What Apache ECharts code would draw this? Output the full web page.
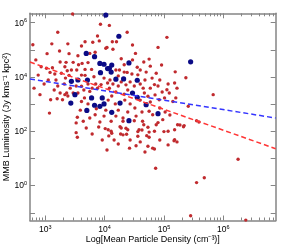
<!DOCTYPE html>
<html>
<head>
<meta charset="utf-8">
<script src="https://cdn.jsdelivr.net/npm/echarts@6/dist/echarts.min.js"></script>
<style>html,body{margin:0;padding:0;background:#fff;}#c{width:293px;height:245px;}</style>
</head>
<body>
<div id="c"></div>
<script>
// log10(mean particle density), log10(MMB luminosity)
const redSources = [
[3.46,6.32],[3.93,5.94],[3.21,5.65],[2.79,5.19],[3.11,5.22],[3.38,5.22],[3.88,5.51],[3.91,5.33],[3.80,5.28],[3.67,5.30],
[3.61,5.14],[3.24,4.96],[3.03,4.86],[3.40,4.86],[3.55,4.78],[3.84,4.91],[3.75,4.87],[4.02,5.06],[3.35,4.54],[3.47,4.54],
[3.56,4.45],[3.62,4.50],[3.72,4.53],[2.93,4.38],[3.02,4.32],[3.12,4.34],[3.33,4.38],[3.37,4.23],[3.44,4.26],[3.53,4.26],
[3.67,4.28],[3.78,4.28],[3.08,4.17],[3.16,4.11],[3.27,4.14],[3.40,4.06],[3.61,4.07],[3.67,4.06],[3.82,4.01],[3.05,3.89],
[3.34,3.96],[4.08,5.90],[4.38,5.65],[5.05,5.46],[4.13,5.30],[4.20,5.30],[4.04,5.09],[4.47,5.18],[4.14,5.02],[4.90,5.09],
[4.52,4.87],[4.75,4.66],[4.28,4.67],[4.47,4.63],[4.33,4.45],[4.96,4.44],[4.55,4.36],[4.25,4.26],[4.19,4.26],[4.38,4.17],
[5.19,4.19],[4.87,4.14],[4.56,4.08],[5.37,3.97],[2.91,3.35],[3.07,2.67],[3.09,3.16],[3.20,3.20],[3.29,3.16],[3.25,3.41],
[3.36,3.41],[3.38,3.30],[3.47,3.41],[3.55,3.41],[3.61,3.66],[3.88,3.59],[3.94,3.72],[3.54,2.52],[3.64,2.37],[3.52,2.31],
[3.84,2.61],[3.92,2.34],[3.90,2.16],[4.01,2.10],[4.06,2.06],[3.54,1.78],[3.86,2.83],[3.66,3.23],[3.75,3.47],[3.61,3.10],
[3.33,3.35],[4.84,3.72],[5.18,3.78],[5.05,3.53],[5.09,3.41],[5.22,3.59],[4.05,3.78],[4.08,3.59],[4.67,3.41],[4.73,3.29],
[4.92,3.16],[5.01,3.23],[5.15,3.10],[5.20,3.23],[4.31,2.49],[4.31,2.37],[4.11,2.37],[4.50,2.39],[4.64,2.37],[4.75,2.74],
[4.81,2.61],[4.28,2.12],[4.39,2.06],[4.58,2.06],[4.73,2.15],[4.87,2.24],[4.98,2.43],[5.07,2.00],[5.18,2.06],[5.23,2.24],
[4.11,2.00],[4.75,1.97],[4.75,1.78],[4.84,2.00],[4.31,1.87],[4.56,1.82],[5.18,1.69],[5.22,1.61],[4.42,1.38],[4.73,1.45],
[4.81,1.38],[5.83,3.35],[5.41,2.92],[5.55,2.39],[5.59,2.34],[5.34,2.21],[6.25,0.97],[5.55,0.11],[5.68,0.29],[5.45,-1.11],
[6.38,-1.27],[4.86,0.64],[5.17,1.65],[4.68,1.24],[4.71,1.84],[4.84,1.35],[4.90,2.32],[5.00,1.99],[5.27,2.23],[5.33,2.17],
[4.63,2.05],[3.52,1.95],[4.04,1.31],[4.07,1.83],[4.12,1.93],[4.26,2.17],[4.27,1.90],[4.37,1.89],[4.36,2.11],[4.53,1.47],
[4.56,1.99],[4.66,2.24],
[4.09,3.89],[4.14,3.74],[4.23,3.67],[4.28,3.82],[4.36,3.71],[4.43,3.82],[4.50,3.67],[4.60,3.74],[4.65,3.59],[4.39,3.52],
[4.33,3.37],[4.19,3.45],[4.12,3.30],[4.06,3.15],[4.18,3.01],[4.34,3.15],[4.43,3.01],[4.51,2.86],[4.60,3.15],[4.63,2.71],
[4.39,2.71],[4.23,2.78],[4.02,2.78],[3.99,2.56],[4.19,2.56],[4.53,2.56],[4.93,2.86],[5.02,2.71],[5.10,2.60],[4.85,3.34],
[4.77,3.08],[4.97,3.45],[4.90,3.67],[4.77,3.59],[4.68,3.89],[4.80,3.96],[4.93,3.89],[5.07,3.74],[4.46,4.11],[4.60,4.26],
[4.70,4.18],[4.77,4.40],[4.66,4.55],[4.33,4.18],[4.23,4.04],[3.99,3.96],[3.85,3.74],[3.79,3.59],[3.72,3.74],[3.65,3.52],
[3.52,3.67],[3.42,3.59],[3.32,3.74],[3.21,3.67],[3.15,3.52],[3.72,3.01],[3.75,2.49],[3.69,2.12],[3.79,1.90],[3.59,2.78],
[4.16,1.68],[4.23,1.53],[3.96,1.68],[4.43,1.68],[4.93,1.68],[5.07,1.50],[4.60,1.61],[2.84,4.63],[2.88,4.07],[2.98,3.74],
[2.81,3.59],[3.18,3.89],[3.25,4.55]
];
const blueSources = [
[4.02,6.28],[4.24,5.50],[3.69,4.87],[3.83,4.75],[3.92,4.50],[3.99,4.47],[5.45,4.56],[4.12,4.44],[4.08,4.32],[4.41,4.52],
[3.44,3.84],[3.55,3.89],[3.71,3.89],[3.93,4.16],[4.05,4.31],[4.11,4.18],[4.19,3.92],[4.32,3.93],[4.55,3.88],[3.50,3.35],
[3.43,3.04],[3.78,3.23],[3.70,2.77],[3.83,2.96],[3.92,2.92],[3.96,3.23],[3.99,3.01],[4.47,3.41],[4.55,3.25],[4.26,3.04],
[4.70,2.98],[4.90,2.65],[4.12,2.70],[4.41,2.39]
];
// fitted trend lines (endpoints at the plot edges)
const redFit = [[2.742,4.55],[6.884,1.36]];
const blueFit = [[2.742,3.93],[6.884,2.49]];
// tick labels (decade exponents)
const xTickLabels = [3,4,5,6];
const yTickLabels = [0,2,4,6];
const yTickMarks = [-1,0,1,2,3,4,5,6];

const xMin = 2.742, xMax = 6.884, yMin = -1.285, yMax = 6.346;
const FONT = 'Liberation Sans, Arial, sans-serif';
const GRAY = '#858585';

const xMinor = [];
for (let d = 2; d <= 6; d++) for (let k = 2; k <= 9; k++) {
  const v = d + Math.log10(k);
  if (v > xMin && v < xMax) xMinor.push(v);
}
const rich = {
  b: {fontSize: 8.5, fontFamily: FONT, color: '#000', lineHeight: 10, verticalAlign: 'bottom'},
  s: {fontSize: 5.5, fontFamily: FONT, color: '#000', lineHeight: 10, verticalAlign: 'top'}
};
const fmt = v => '{b|10}{s|' + Math.round(v) + '}';

function xAx(pos, customTicks, len, showLine, labels) {
  return {
    type: 'value', min: xMin, max: xMax, position: pos, gridIndex: 0,
    splitLine: {show: false},
    axisLine: {show: showLine, onZero: false, lineStyle: {color: GRAY, width: 1.5}},
    axisTick: {show: true, inside: true, length: len, customValues: customTicks, lineStyle: {color: GRAY, width: 1}},
    axisLabel: labels ? {show: true, customValues: labels, formatter: fmt, rich: rich, margin: 4} : {show: false},
    name: (labels && pos === 'bottom') ? 'Log[Mean Particle Density (cm⁻³)]' : '',
    nameLocation: 'middle', nameGap: 15, nameMoveOverlap: false,
    nameTextStyle: {fontFamily: FONT, fontSize: 9, color: '#000'}
  };
}
function yAx(pos, labels) {
  return {
    type: 'value', min: yMin, max: yMax, position: pos, gridIndex: 0,
    splitLine: {show: false},
    axisLine: {show: true, onZero: false, lineStyle: {color: GRAY, width: 1.5}},
    axisTick: {show: true, inside: true, length: 5, customValues: yTickMarks, lineStyle: {color: GRAY, width: 1}},
    axisLabel: labels ? {show: true, customValues: labels, formatter: fmt, rich: rich, margin: 3} : {show: false},
    name: labels ? 'MMB Luminosity (Jy kms⁻¹ kpc²)' : '',
    nameLocation: 'middle', nameGap: 19, nameRotate: 90, nameMoveOverlap: false,
    nameTextStyle: {fontFamily: FONT, fontSize: 9, color: '#000'}
  };
}

const chart = echarts.init(document.getElementById('c'), null, {renderer: 'canvas'});
chart.setOption({
  animation: false,
  backgroundColor: '#fff',
  grid: {left: 30, right: 17.3, top: 13.3, bottom: 24.5, containLabel: false, outerBoundsMode: 'none'},
  xAxis: [
    xAx('bottom', xTickLabels, 5, true, xTickLabels),
    xAx('bottom', xMinor, 3, false, null),
    xAx('top', xTickLabels, 5, true, null),
    xAx('top', xMinor, 3, false, null)
  ],
  yAxis: [yAx('left', yTickLabels), yAx('right', null)],
  series: [
    {type: 'scatter', xAxisIndex: 0, yAxisIndex: 0, data: redSources, symbol: 'circle', symbolSize: 3.4,
     itemStyle: {color: '#c02a2e', opacity: 1}, silent: true, z: 2},
    {type: 'scatter', xAxisIndex: 0, yAxisIndex: 0, data: blueSources, symbol: 'circle', symbolSize: 5.2,
     itemStyle: {color: '#0b0b86', opacity: 1}, silent: true, z: 3},
    {type: 'line', xAxisIndex: 0, yAxisIndex: 0, data: redFit, showSymbol: false, symbol: 'none',
     lineStyle: {color: '#ff3535', width: 1.5, type: [5, 3]}, silent: true, z: 4},
    {type: 'line', xAxisIndex: 0, yAxisIndex: 0, data: blueFit, showSymbol: false, symbol: 'none',
     lineStyle: {color: '#3535ff', width: 1.5, type: [5, 3]}, silent: true, z: 4}
  ]
});
</script>
</body>
</html>
